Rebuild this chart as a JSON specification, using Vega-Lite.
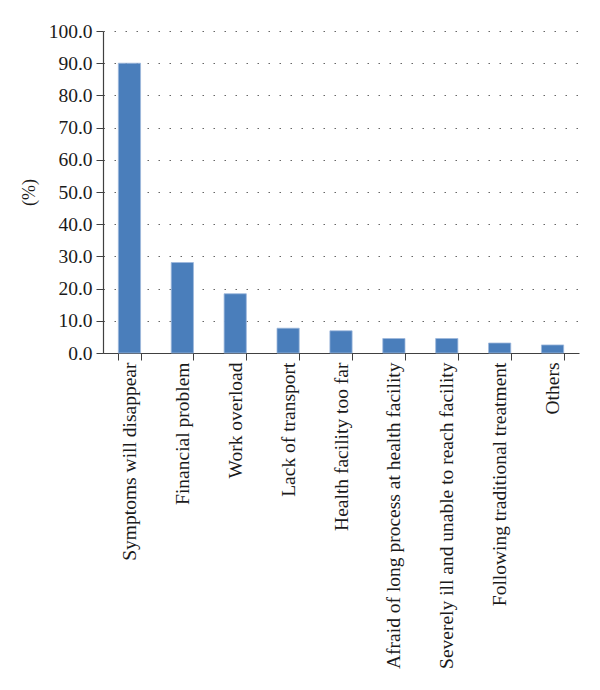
{
  "$schema": "https://vega.github.io/schema/vega-lite/v6.json",
  "autosize": {"type": "none"},
  "width": 476,
  "height": 322,
  "padding": {"left": 103, "top": 31, "right": 21, "bottom": 337},
  "background": "white",
  "data": {
    "values": [
      {"reason": "Symptoms will disappear", "pct": 90.0},
      {"reason": "Financial problem", "pct": 28.1},
      {"reason": "Work overload", "pct": 18.4},
      {"reason": "Lack of transport", "pct": 7.7},
      {"reason": "Health facility too far", "pct": 6.9},
      {"reason": "Afraid of long process at health facility", "pct": 4.5},
      {"reason": "Severely ill and unable to reach facility", "pct": 4.5},
      {"reason": "Following traditional treatment", "pct": 3.1},
      {"reason": "Others", "pct": 2.5}
    ]
  },
  "config": {
    "view": {"stroke": null},
    "font": "Liberation Serif",
    "axis": {"labelFont": "Liberation Serif", "titleFont": "Liberation Serif", "labelColor": "#1a1a1a", "titleColor": "#1a1a1a"}
  },
  "mark": {"type": "bar", "color": "#4a7ebb", "stroke": "#9db7dc", "strokeWidth": 0.8},
  "encoding": {
    "x": {
      "field": "reason",
      "type": "nominal",
      "sort": null,
      "scale": {"paddingInner": 0.58, "paddingOuter": 0.29},
      "axis": {
        "title": null,
        "labelAngle": -90,
        "labelFontSize": 19.5,
        "labelPadding": 2,
        "labelLimit": 400,
        "tickBand": "extent",
        "ticks": true,
        "tickSize": 7,
        "tickColor": "#404040",
        "domainColor": "#404040",
        "domainWidth": 1.2,
        "grid": false
      }
    },
    "y": {
      "field": "pct",
      "type": "quantitative",
      "scale": {"domain": [0, 100]},
      "axis": {
        "title": "(%)",
        "titleFontSize": 18,
        "titleFontWeight": "normal",
        "titlePadding": 10,
        "values": [0, 10, 20, 30, 40, 50, 60, 70, 80, 90, 100],
        "format": ".1f",
        "labelFontSize": 19.5,
        "labelPadding": 4,
        "tickSize": 7,
        "tickColor": "#404040",
        "domainColor": "#404040",
        "domainWidth": 1.2,
        "grid": true,
        "gridColor": "#666666",
        "gridDash": [1.5, 9.5],
        "gridWidth": 1.2
      }
    }
  }
}
